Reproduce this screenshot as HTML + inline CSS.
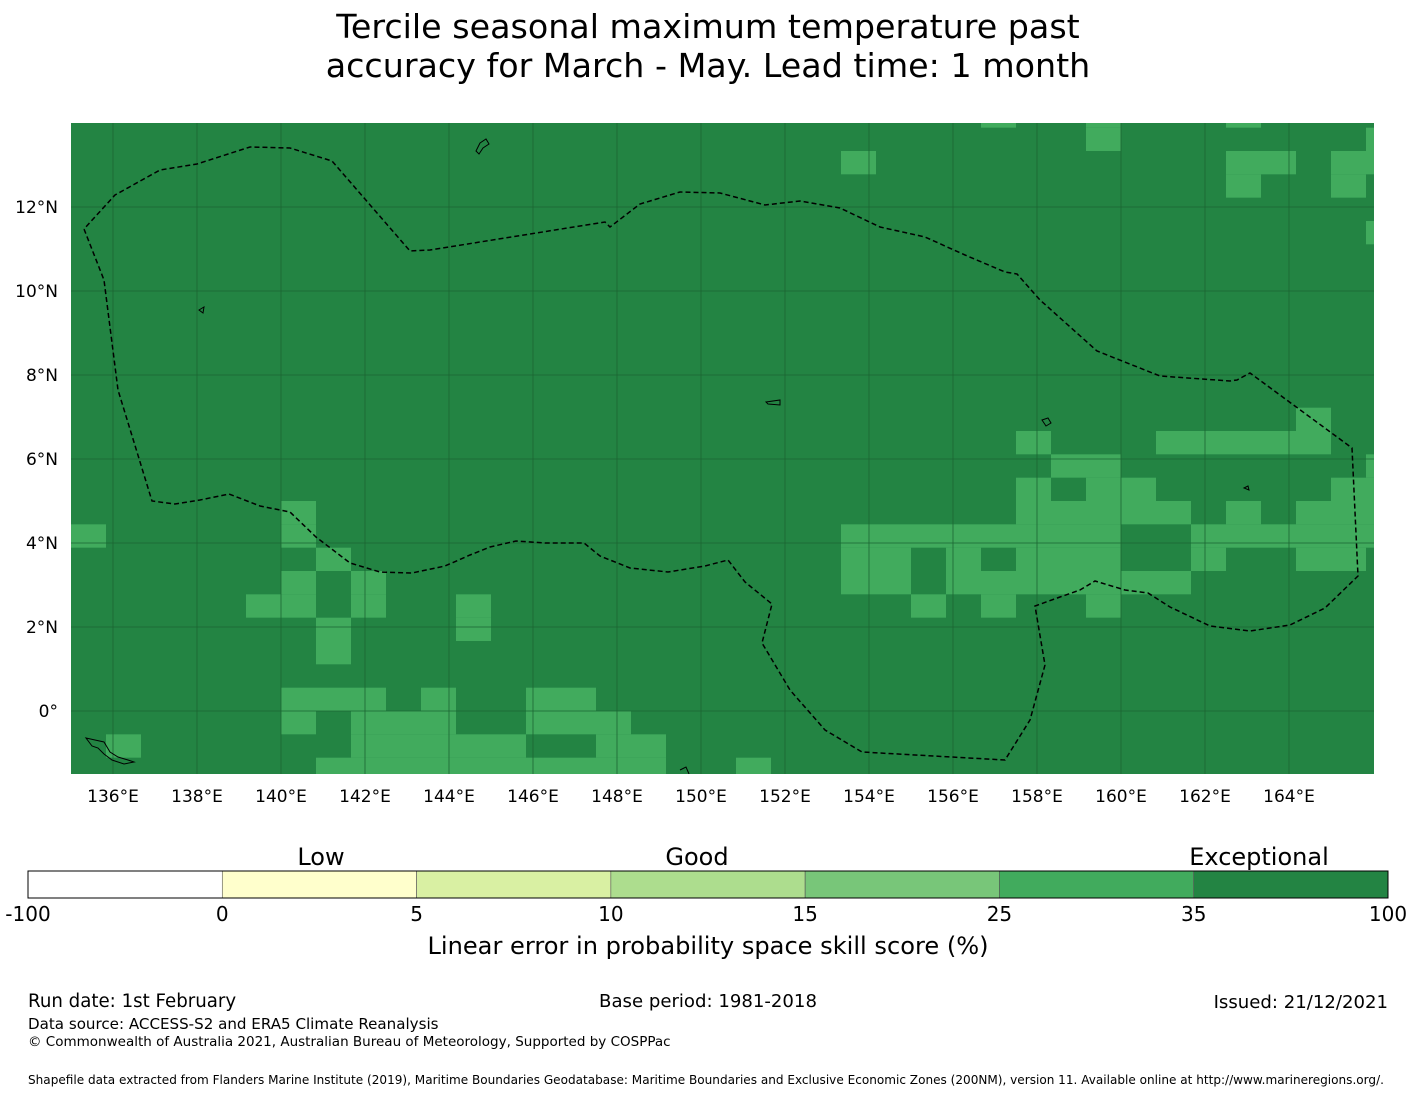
<!DOCTYPE html>
<html><head><meta charset="utf-8"><style>
html,body{margin:0;padding:0;background:#fff;}
svg{display:block;font-family:"DejaVu Sans","Liberation Sans",sans-serif;}
</style></head><body>
<svg id="fig" width="1416" height="1095" viewBox="0 0 1416 1095">
<g font-size="33.3" text-anchor="middle" fill="#000">
<text x="708" y="38">Tercile seasonal maximum temperature past</text>
<text x="708" y="77">accuracy for March - May. Lead time: 1 month</text>
</g>
<defs><clipPath id="mapclip"><rect x="71" y="123" width="1303" height="651"/></clipPath></defs>
<g id="map" clip-path="url(#mapclip)">
<rect x="71" y="123" width="1303" height="651" fill="#238443"/>
<g id="cells"></g>
<g id="grid"></g>
<polyline id="eez" fill="none" stroke="#000" stroke-width="1.5" stroke-dasharray="5,3" points="84,229 104,280 118,390 152,501 175,504 200,500 229,494 260,506 290,512 316,537 350,563 380,572 412,573 445,566 470,555 490,547 516,541 545,543 584,543 600,556 630,568 668,572 705,566 728,560 745,582 772,604 762,643 790,690 825,730 862,752 1005,760 1030,720 1045,665 1035,606 1060,597 1080,590 1095,581 1125,590 1148,593 1170,607 1210,626 1250,631 1290,625 1325,608 1358,576 1352,448 1250,373 1237,380 1230,381 1160,376 1097,351 1040,300 1017,274 1005,272 965,255 925,237 880,227 840,208 800,201 765,205 720,193 680,192 640,204 610,227 605,222 430,250 410,251 332,161 290,148 250,147 197,164 160,170 115,195 84,229"/>
<g fill="none" stroke="#000" stroke-width="1">
<path d="M86,738 L95,740 L104,742 L110,752 L118,757 L128,760 L134,762 L124,764 L112,760 L104,754 L98,748 L92,746 Z"/>
<path d="M480,143 L486,139 L489,144 L483,148 L479,154 L476,151 Z"/>
<path d="M199,310 L204,307 L203,313 Z"/>
<path d="M1042,420 L1048,418 L1051,423 L1046,426 Z"/>
<path d="M766,402 L780,400 L780,405 L768,404 Z"/>
<path d="M680,770 L686,767 L689,774"/>
<path d="M1244,488 L1248,486 L1249,490 Z"/>
</g>
</g>
<g id="xticks" font-size="17" text-anchor="middle"></g>
<g id="yticks" font-size="17" text-anchor="end"></g>

<g>
<g id="cbar"></g>
<rect x="28" y="871" width="1360" height="27" fill="none" stroke="#000" stroke-width="1"/>
<g font-size="24" text-anchor="middle">
<text x="321" y="865">Low</text>
<text x="697" y="865">Good</text>
<text x="1259" y="865">Exceptional</text>
</g>
<g id="cbticks" font-size="20" text-anchor="middle"></g>
<text x="708" y="954" font-size="24.1" text-anchor="middle">Linear error in probability space skill score (%)</text>
</g>

<g>
<text x="28" y="1007" font-size="18.2">Run date: 1st February</text>
<text x="708" y="1007" font-size="18.1" text-anchor="middle">Base period: 1981-2018</text>
<text x="1388" y="1008" font-size="18.1" text-anchor="end">Issued: 21/12/2021</text>
<text x="28" y="1029" font-size="15.1">Data source: ACCESS-S2 and ERA5 Climate Reanalysis</text>
<text x="28" y="1046" font-size="13.5">© Commonwealth of Australia 2021, Australian Bureau of Meteorology, Supported by COSPPac</text>
<text x="28" y="1084" font-size="12.07">Shapefile data extracted from Flanders Marine Institute (2019), Maritime Boundaries Geodatabase: Maritime Boundaries and Exclusive Economic Zones (200NM), version 11. Available online at http://www.marineregions.org/.</text>
</g>
</svg>
<script>
// ---- data ----
const lonMin = 135.0, latTop = 14.0;
const cellLon = 5/6, cellLat = 5/9;
const rowIndex = [-1,0,1,2,4,12,13,14,15,16,17,18,19,20,21,22,24,25,26,27];
const lightCols = [
 [26,29,33],
 [29,37],
 [22,33,34,36,37],
 [33,36],
 [37],
 [35],
 [27,31,32,33,34,35],
 [28,29,37],
 [27,29,30,36,37],
 [6,27,28,29,30,31,33,35,36,37],
 [0,6,22,23,24,25,26,27,28,29,32,33,34,35,36,37],
 [7,22,23,25,27,28,29,32,35,36],
 [6,8,22,23,25,26,27,28,29,30,31],
 [5,6,8,11,24,26,29],
 [7,11],
 [7],
 [6,7,8,10,13,14],
 [6,8,9,10,13,14,15],
 [1,8,9,10,11,12,15,16],
 [7,8,9,10,11,12,13,14,15,16,19]
];
const highValue = 45, midValue = 30;
const cbBounds = [-100,0,5,10,15,25,35,100];
const cbColors = ["#ffffff","#ffffcc","#d9f0a3","#addd8e","#78c679","#41ab5d","#238443"];
const lonTicks = [136,138,140,142,144,146,148,150,152,154,156,158,160,162,164];
const latTicks = [0,2,4,6,8,10,12];

// ---- axes ----
const NS = "http://www.w3.org/2000/svg";
const X = lon => 71 + (lon - lonMin) * 42;
const Y = lat => 123 + (latTop - lat) * 42;
function colorFor(v){ for(let i=cbBounds.length-2;i>=0;i--){ if(v>=cbBounds[i]) return cbColors[i]; } return cbColors[0]; }

const cells = document.getElementById('cells');
rowIndex.forEach((r, ri) => {
  const latN = 13.0 + 8/9 - r * cellLat;
  lightCols[ri].forEach(c => {
    const lonW = lonMin + c * cellLon;
    const el = document.createElementNS(NS, 'rect');
    
    
    el.setAttribute('x', X(lonW));
    el.setAttribute('y', Y(latN));
    el.setAttribute('width', X(lonW + cellLon) - X(lonW));
    el.setAttribute('height', Y(latN - cellLat) - Y(latN));
    el.setAttribute('fill', colorFor(midValue));
    cells.appendChild(el);
  });
});

const grid = document.getElementById('grid');
const xt = document.getElementById('xticks');
lonTicks.forEach(l => {
  const ln = document.createElementNS(NS, 'line');
  
  
  ln.setAttribute('x1', X(l)); ln.setAttribute('x2', X(l));
  ln.setAttribute('y1', 123); ln.setAttribute('y2', 774);
  ln.setAttribute('stroke', '#1b6533'); ln.setAttribute('stroke-width', '0.8');
  grid.appendChild(ln);
  const t = document.createElementNS(NS, 'text');
  
  
  t.setAttribute('x', X(l)); t.setAttribute('y', 802);
  t.textContent = l + '°E';
  xt.appendChild(t);
});
const yt = document.getElementById('yticks');
latTicks.forEach(l => {
  const ln = document.createElementNS(NS, 'line');
  
  
  ln.setAttribute('x1', 71); ln.setAttribute('x2', 1374);
  ln.setAttribute('y1', Y(l)); ln.setAttribute('y2', Y(l));
  ln.setAttribute('stroke', '#1b6533'); ln.setAttribute('stroke-width', '0.8');
  grid.appendChild(ln);
  const t = document.createElementNS(NS, 'text');
  
  
  t.setAttribute('x', 58); t.setAttribute('y', Y(l) + 6);
  t.textContent = l === 0 ? '0°' : l + '°N';
  yt.appendChild(t);
});

const cb = document.getElementById('cbar');
const cbt = document.getElementById('cbticks');
const segW = 1360 / cbColors.length;
cbColors.forEach((col, i) => {
  const r = document.createElementNS(NS, 'rect');
  
  
  r.setAttribute('x', 28 + i * segW); r.setAttribute('y', 871);
  r.setAttribute('width', segW); r.setAttribute('height', 27);
  r.setAttribute('fill', col); r.setAttribute('stroke', '#555'); r.setAttribute('stroke-width', '0.6');
  cb.appendChild(r);
});
cbBounds.forEach((b, i) => {
  const t = document.createElementNS(NS, 'text');
  
  
  t.setAttribute('x', 28 + i * segW); t.setAttribute('y', 921);
  t.textContent = b;
  cbt.appendChild(t);
});
</script>
</body></html>
